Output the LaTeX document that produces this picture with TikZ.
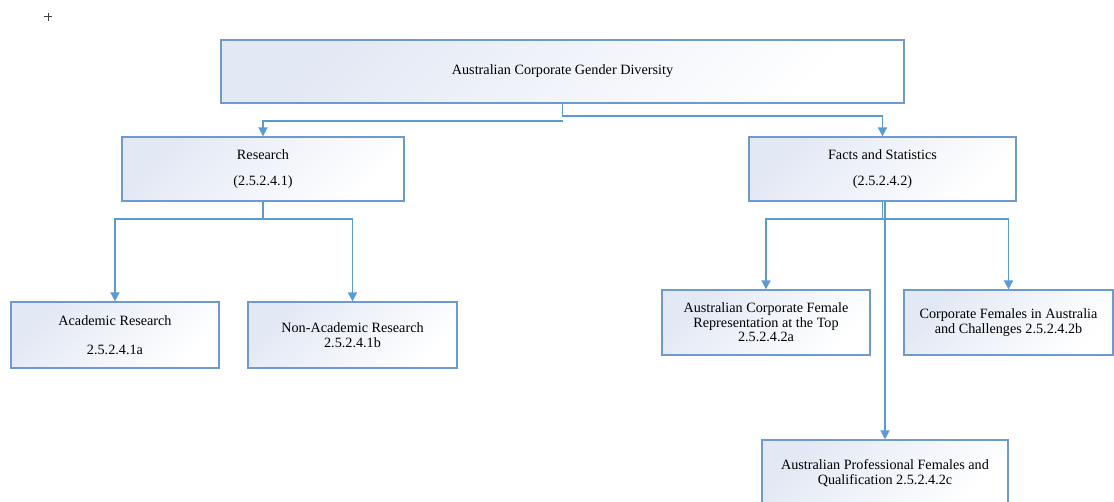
\documentclass[tikz,border=0pt]{standalone}
\usepackage{fontspec}
\setmainfont{Liberation Serif}
\usetikzlibrary{arrows.meta}
\definecolor{edge}{HTML}{5B9BD5}
\definecolor{boxline}{HTML}{6E9AD0}
\definecolor{boxtint}{HTML}{E2E8F4}
\tikzset{
  box/.style={draw=boxline, line width=1.3pt, rectangle, inner sep=0pt,
    align=center, font=\fontsize{14.2}{14.5}\selectfont,
    left color=boxtint, right color=white, shading angle=45},
  conn/.style={draw=edge, line width=1.8pt},
  arr/.style={conn, -{Triangle[width=9pt,length=9pt]}},
}
\begin{document}
\begin{tikzpicture}[x=1pt,y=-1pt]
\useasboundingbox (0,0) rectangle (1114,502);
% crosshair mark
\draw[black!75, line width=1pt] (44,17) -- (52,17) (48,13) -- (48,21);
\node[box, minimum width=683pt, minimum height=63pt] (top) at (562.5,71.5) {Australian Corporate Gender Diversity};
\node[box, minimum width=282pt, minimum height=64pt] (res) at (263,169) {Research\\[11pt](2.5.2.4.1)};
\node[box, minimum width=267pt, minimum height=64pt] (fac) at (882.5,169) {Facts and Statistics\\[11pt](2.5.2.4.2)};
\node[box, minimum width=208pt, minimum height=66pt] (aca) at (115,335) {Academic Research\\[14pt]2.5.2.4.1a};
\node[box, minimum width=209pt, minimum height=66pt] (non) at (352.5,335) {Non-Academic Research\\2.5.2.4.1b};
\node[box, minimum width=208pt, minimum height=65pt] (acf) at (766,322.5) {Australian Corporate Female\\Representation at the Top\\2.5.2.4.2a};
\node[box, minimum width=209pt, minimum height=65pt] (cfa) at (1008.5,322.5) {Corporate Females in Australia\\and Challenges 2.5.2.4.2b};
\node[box, minimum width=246pt, minimum height=66pt] (apf) at (885,473) {Australian Professional Females and\\Qualification 2.5.2.4.2c};
% top connectors
\coordinate (split) at (563,121);
\draw[arr] (top.south) -- ++(0,12) -| (fac.north);
\draw[arr] (split) -| (res.north);
% research connectors
\draw[arr] (res.south) -- ++(0,17) -| (aca.north);
\draw[arr] (res.south) -- ++(0,17) -| (non.north);
% facts connectors
\draw[arr] (fac.south) -- ++(0,17) -| (acf.north);
\draw[arr] (fac.south) -- ++(0,17) -| (cfa.north);
\draw[arr] (apf.north |- fac.south) -- (apf.north);
\end{tikzpicture}
\end{document}
